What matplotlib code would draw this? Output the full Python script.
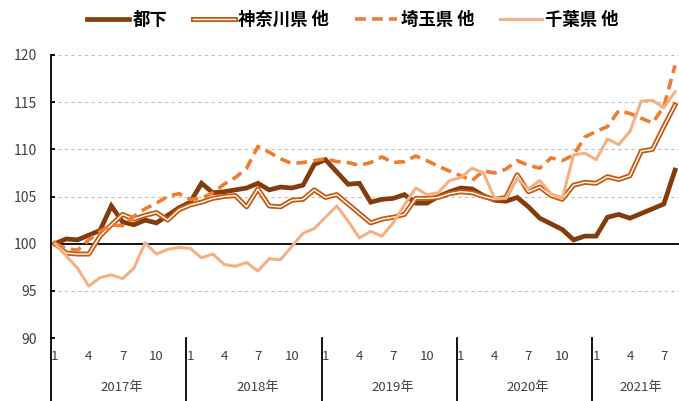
import matplotlib
matplotlib.use("Agg")
import matplotlib.pyplot as plt
import matplotlib.patheffects as pe
import matplotlib.transforms as mtransforms
import numpy as np

plt.rcParams["font.family"] = ["Noto Sans CJK JP", "DejaVu Sans"]

# monthly index, 2017-01 .. 2021-08 (2017-01 = 100)
tokai = [100.0, 100.5, 100.4, 100.9, 101.4, 104.0, 102.3, 102.0, 102.5, 102.2, 103.0, 103.8,
         104.4, 106.4, 105.4, 105.5, 105.7, 105.9, 106.4, 105.7, 106.0, 105.9, 106.2, 108.4,
         108.9, 107.6, 106.3, 106.4, 104.4, 104.7, 104.8, 105.2, 104.3, 104.3, 105.0, 105.5,
         105.9, 105.8, 105.1, 104.6, 104.5, 104.9, 103.9, 102.7, 102.1, 101.5, 100.4, 100.8,
         100.8, 102.8, 103.1, 102.7, 103.2, 103.7, 104.2, 107.8]
kanagawa = [100.0, 99.0, 98.9, 98.9, 100.8, 102.0, 103.1, 102.6, 103.0, 103.3, 102.5, 103.6,
            104.1, 104.4, 104.8, 105.0, 105.1, 103.9, 105.8, 104.0, 103.9, 104.6, 104.7, 105.7,
            104.9, 105.2, 104.2, 103.2, 102.2, 102.6, 102.8, 103.1, 104.8, 104.8, 104.9, 105.3,
            105.5, 105.4, 105.0, 104.7, 104.9, 107.3, 105.5, 106.0, 105.1, 104.7, 106.2, 106.5,
            106.4, 107.1, 106.8, 107.2, 109.8, 110.0, 112.4, 114.7]
saitama = [100.0, 99.5, 99.3, 100.4, 101.3, 102.0, 101.9, 102.9, 103.7, 104.3, 105.0, 105.3,
           104.7, 104.8, 105.4, 106.3, 107.0, 108.0, 110.3, 109.7, 109.0, 108.5, 108.6, 108.8,
           109.0, 108.7, 108.6, 108.3, 108.6, 109.2, 108.6, 108.7, 109.3, 108.8, 108.2, 107.7,
           107.2, 106.7, 107.7, 107.5, 107.9, 108.8, 108.3, 108.0, 109.1, 108.8, 109.4, 111.3,
           111.9, 112.4, 114.1, 113.8, 113.3, 112.8, 114.5, 118.9]
chiba = [100.0, 98.7, 97.4, 95.5, 96.4, 96.7, 96.3, 97.4, 100.1, 98.9, 99.4, 99.6,
         99.5, 98.5, 98.9, 97.8, 97.6, 98.0, 97.1, 98.4, 98.3, 99.7, 101.1, 101.6,
         102.8, 104.0, 102.4, 100.6, 101.3, 100.8, 102.2, 104.1, 105.9, 105.2, 105.4, 106.7,
         107.0, 108.0, 107.5, 104.8, 104.8, 106.9, 105.8, 106.7, 105.3, 104.8, 109.4, 109.6,
         108.9, 111.1, 110.5, 111.9, 115.1, 115.2, 114.4, 116.1]

years = ["2017年", "2018年", "2019年", "2020年", "2021年"]
month_labels = ["1", "4", "7", "10"]
labels = ["都下", "神奈川県 他", "埼玉県 他", "千葉県 他"]

x = np.arange(len(tokai))

fig = plt.figure(figsize=(6.79, 4.01), dpi=100)
ax = fig.add_axes([51 / 679, 63 / 401, 628 / 679, 283 / 401])

ax.plot(x, tokai, color="#843C0C", lw=3.4, label=labels[0], solid_joinstyle="miter")
ax.plot(x, kanagawa, color="white", lw=1.0, label=labels[1],
        path_effects=[pe.Stroke(linewidth=3.6, foreground="#C55A11"), pe.Normal()])
ax.plot(x, saitama, color="#ED7D31", lw=2.6, label=labels[2], linestyle=(0, (3, 1.7)))
ax.plot(x, chiba, color="#F4B183", lw=2.2, label=labels[3])

ax.set_xlim(-0.35, len(x) - 0.65)
ax.set_ylim(90, 120)
ax.set_yticks(np.arange(90, 121, 5))
ax.set_xticks([])
for v in np.arange(90, 121, 5):
    if v != 100:
        ax.axhline(v, color="#BFBFBF", lw=0.8, ls=(0, (3, 3)), zorder=0)
ax.axhline(100, color="black", lw=1.3, zorder=1)

for s in ["top", "right", "bottom"]:
    ax.spines[s].set_visible(False)
ax.spines["left"].set_linewidth(1.3)
ax.tick_params(axis="y", direction="in", length=3, width=1.3, labelsize=10,
               pad=10, colors="black")
for lbl in ax.get_yticklabels():
    lbl.set_color("#404040")

# category axis below: months, years, separators
trans = mtransforms.blended_transform_factory(ax.transData, ax.transAxes)
for k, yr in enumerate(years):
    start = 12 * k
    ax.plot([start - 0.35, start - 0.35], [0, -0.23], color="black", lw=1.3,
            transform=trans, clip_on=False)
    for j, m in enumerate(month_labels):
        if start + 3 * j < len(x):
            ax.text(start + 3 * j, -0.065, m, transform=trans, ha="center", va="center",
                    fontsize=9.5, color="#404040")
    end = min(start + 12, len(x)) - 0.35
    ax.text((start - 0.35 + end) / 2 + 0.3, -0.175, yr, transform=trans, ha="center",
            va="center", fontsize=9.5, color="#404040")

fig.legend(loc="center", bbox_to_anchor=(0.52, 0.95), ncol=4, frameon=False,
           prop={"size": 12.5, "weight": "bold"}, handlelength=2.4, handletextpad=0.2,
           columnspacing=1.5)

fig.savefig("out.png", dpi=100)
